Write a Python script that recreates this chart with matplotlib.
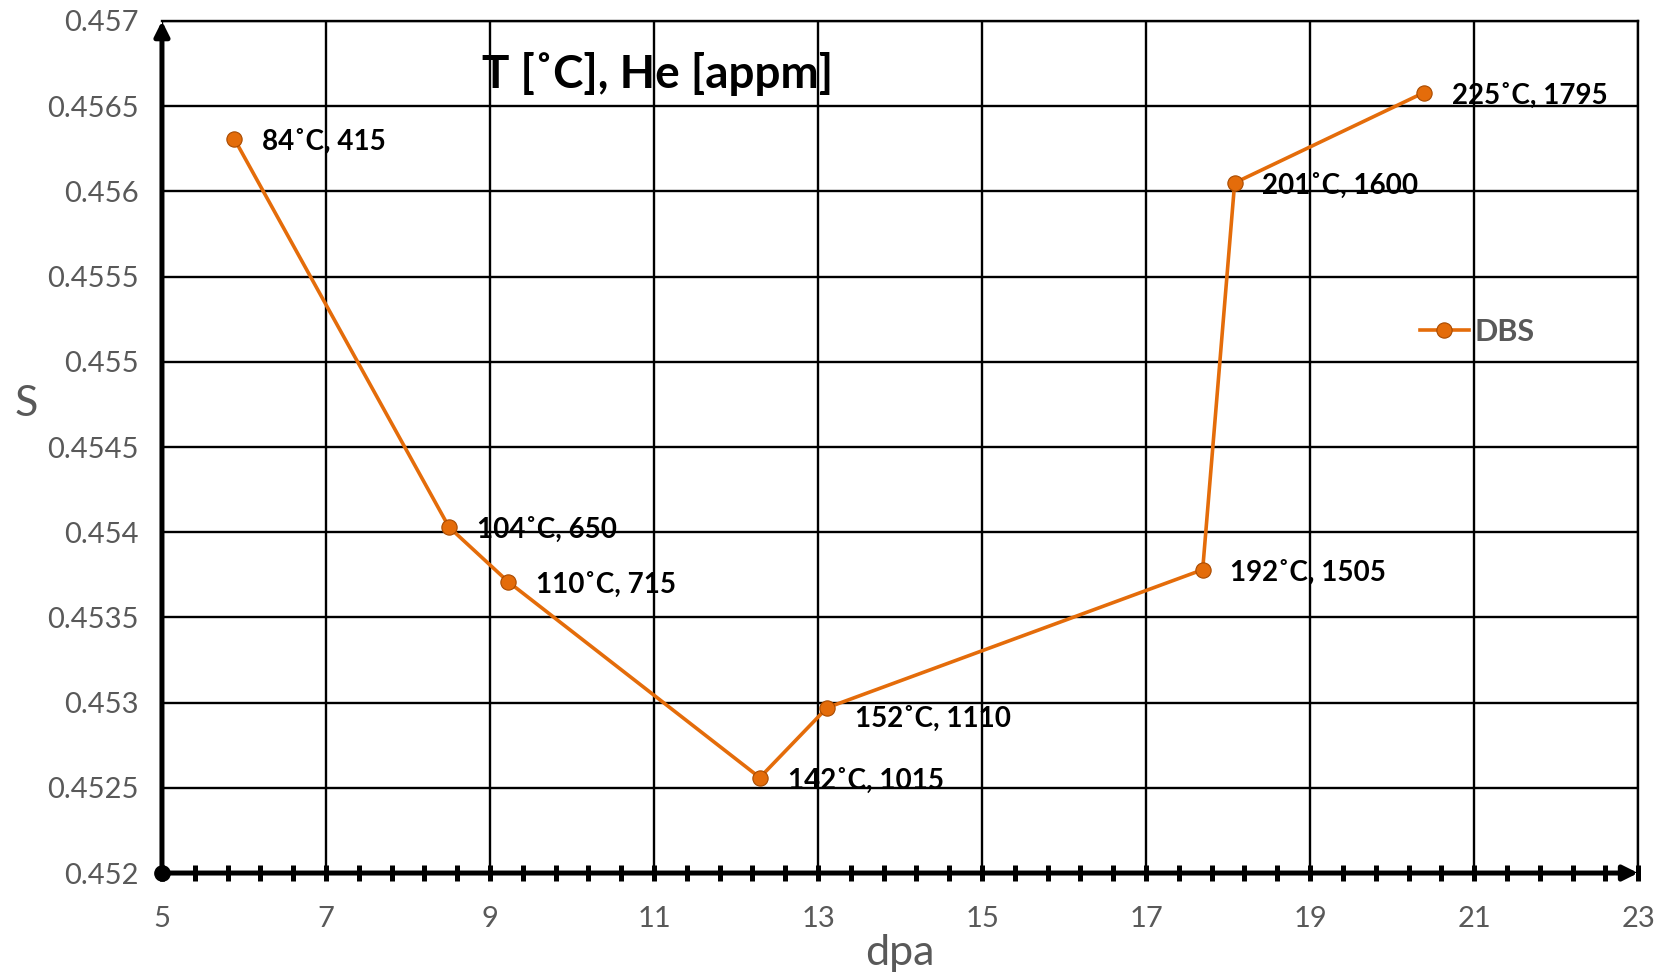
import matplotlib.pyplot as plt
from matplotlib.ticker import MultipleLocator, FuncFormatter

plt.rcParams['font.family'] = ['Lato', 'DejaVu Sans']

# Данные DBS
dpa = [5.88, 8.50, 9.22, 12.29, 13.11, 17.69, 18.08, 20.39]
S = [0.45631, 0.45403, 0.45371, 0.45256, 0.45297, 0.45378, 0.45605, 0.45658]
labels = ["84˚C, 415", "104˚C, 650", "110˚C, 715", "142˚C, 1015",
          "152˚C, 1110", "192˚C, 1505", "201˚C, 1600", "225˚C, 1795"]

orange = '#E46C0A'
gray = '#595959'

fig = plt.figure(figsize=(16.68, 9.76), dpi=100)
ax = fig.add_axes([0.0971, 0.1055, 0.885, 0.873])

ax.plot(dpa, S, color=orange, lw=2.6, marker='o', ms=11,
        mfc=orange, mec='#A84A00', mew=0.8, label='DBS', zorder=5)

# подписи точек
for i, (x, y, t) in enumerate(zip(dpa, S, labels)):
    dy = -8 if i == 4 else -2
    ax.annotate(t, (x, y), xytext=(20, dy), textcoords='offset points',
                fontsize=20, fontweight='bold', va='center', ha='left', zorder=6)

ax.text(8.9, 0.45669, "T [˚C], He [appm]", fontsize=33, fontweight='bold',
        va='center', ha='left', zorder=6)

ax.set_xlim(5, 23)
ax.set_ylim(0.452, 0.457)
ax.xaxis.set_major_locator(MultipleLocator(2, offset=1))
ax.xaxis.set_minor_locator(MultipleLocator(0.4, offset=0.2))
ax.yaxis.set_major_locator(MultipleLocator(0.0005))
ax.yaxis.set_major_formatter(FuncFormatter(lambda v, p: '%g' % round(v, 5)))

ax.grid(True, which='major', color='black', lw=1.7)
ax.set_axisbelow(True)

ax.tick_params(axis='y', length=0, pad=17, labelsize=21, labelcolor=gray)
ax.tick_params(axis='x', which='both', direction='inout', length=11.5, width=3.6,
               pad=18, labelsize=21, labelcolor=gray)
ax.tick_params(axis='x', which='minor', labelbottom=False)

for s in ['top', 'right']:
    ax.spines[s].set_linewidth(1.7)
ax.spines['left'].set_visible(False)
ax.spines['bottom'].set_visible(False)

# оси со стрелками
ax.annotate('', xy=(0, 1.0), xytext=(0, 0), xycoords='axes fraction',
            arrowprops=dict(arrowstyle='-|>', lw=3.6, color='black',
                            mutation_scale=22, shrinkA=0, shrinkB=0), zorder=7)
ax.annotate('', xy=(1.0, 0), xytext=(0, 0), xycoords='axes fraction',
            arrowprops=dict(arrowstyle='-|>', lw=3.6, color='black',
                            mutation_scale=22, shrinkA=0, shrinkB=0), zorder=7)
ax.plot([5], [0.452], 'o', color='black', ms=11, clip_on=False, zorder=8)

ax.set_xlabel('dpa', fontsize=31, color=gray, va='center')
ax.xaxis.set_label_coords(0.5, -0.094)
ax.set_ylabel('S', fontsize=31, color=gray, rotation=0, va='center')
ax.yaxis.set_label_coords(-0.092, 0.55)

leg = ax.legend(loc='center left', bbox_to_anchor=(0.852, 0.635), frameon=False,
                fontsize=22, handlelength=1.6, handletextpad=0.2,
                borderpad=0, borderaxespad=0)
for t in leg.get_texts():
    t.set_color(gray)
    t.set_fontweight('bold')

fig.savefig('out.png', dpi=100)
